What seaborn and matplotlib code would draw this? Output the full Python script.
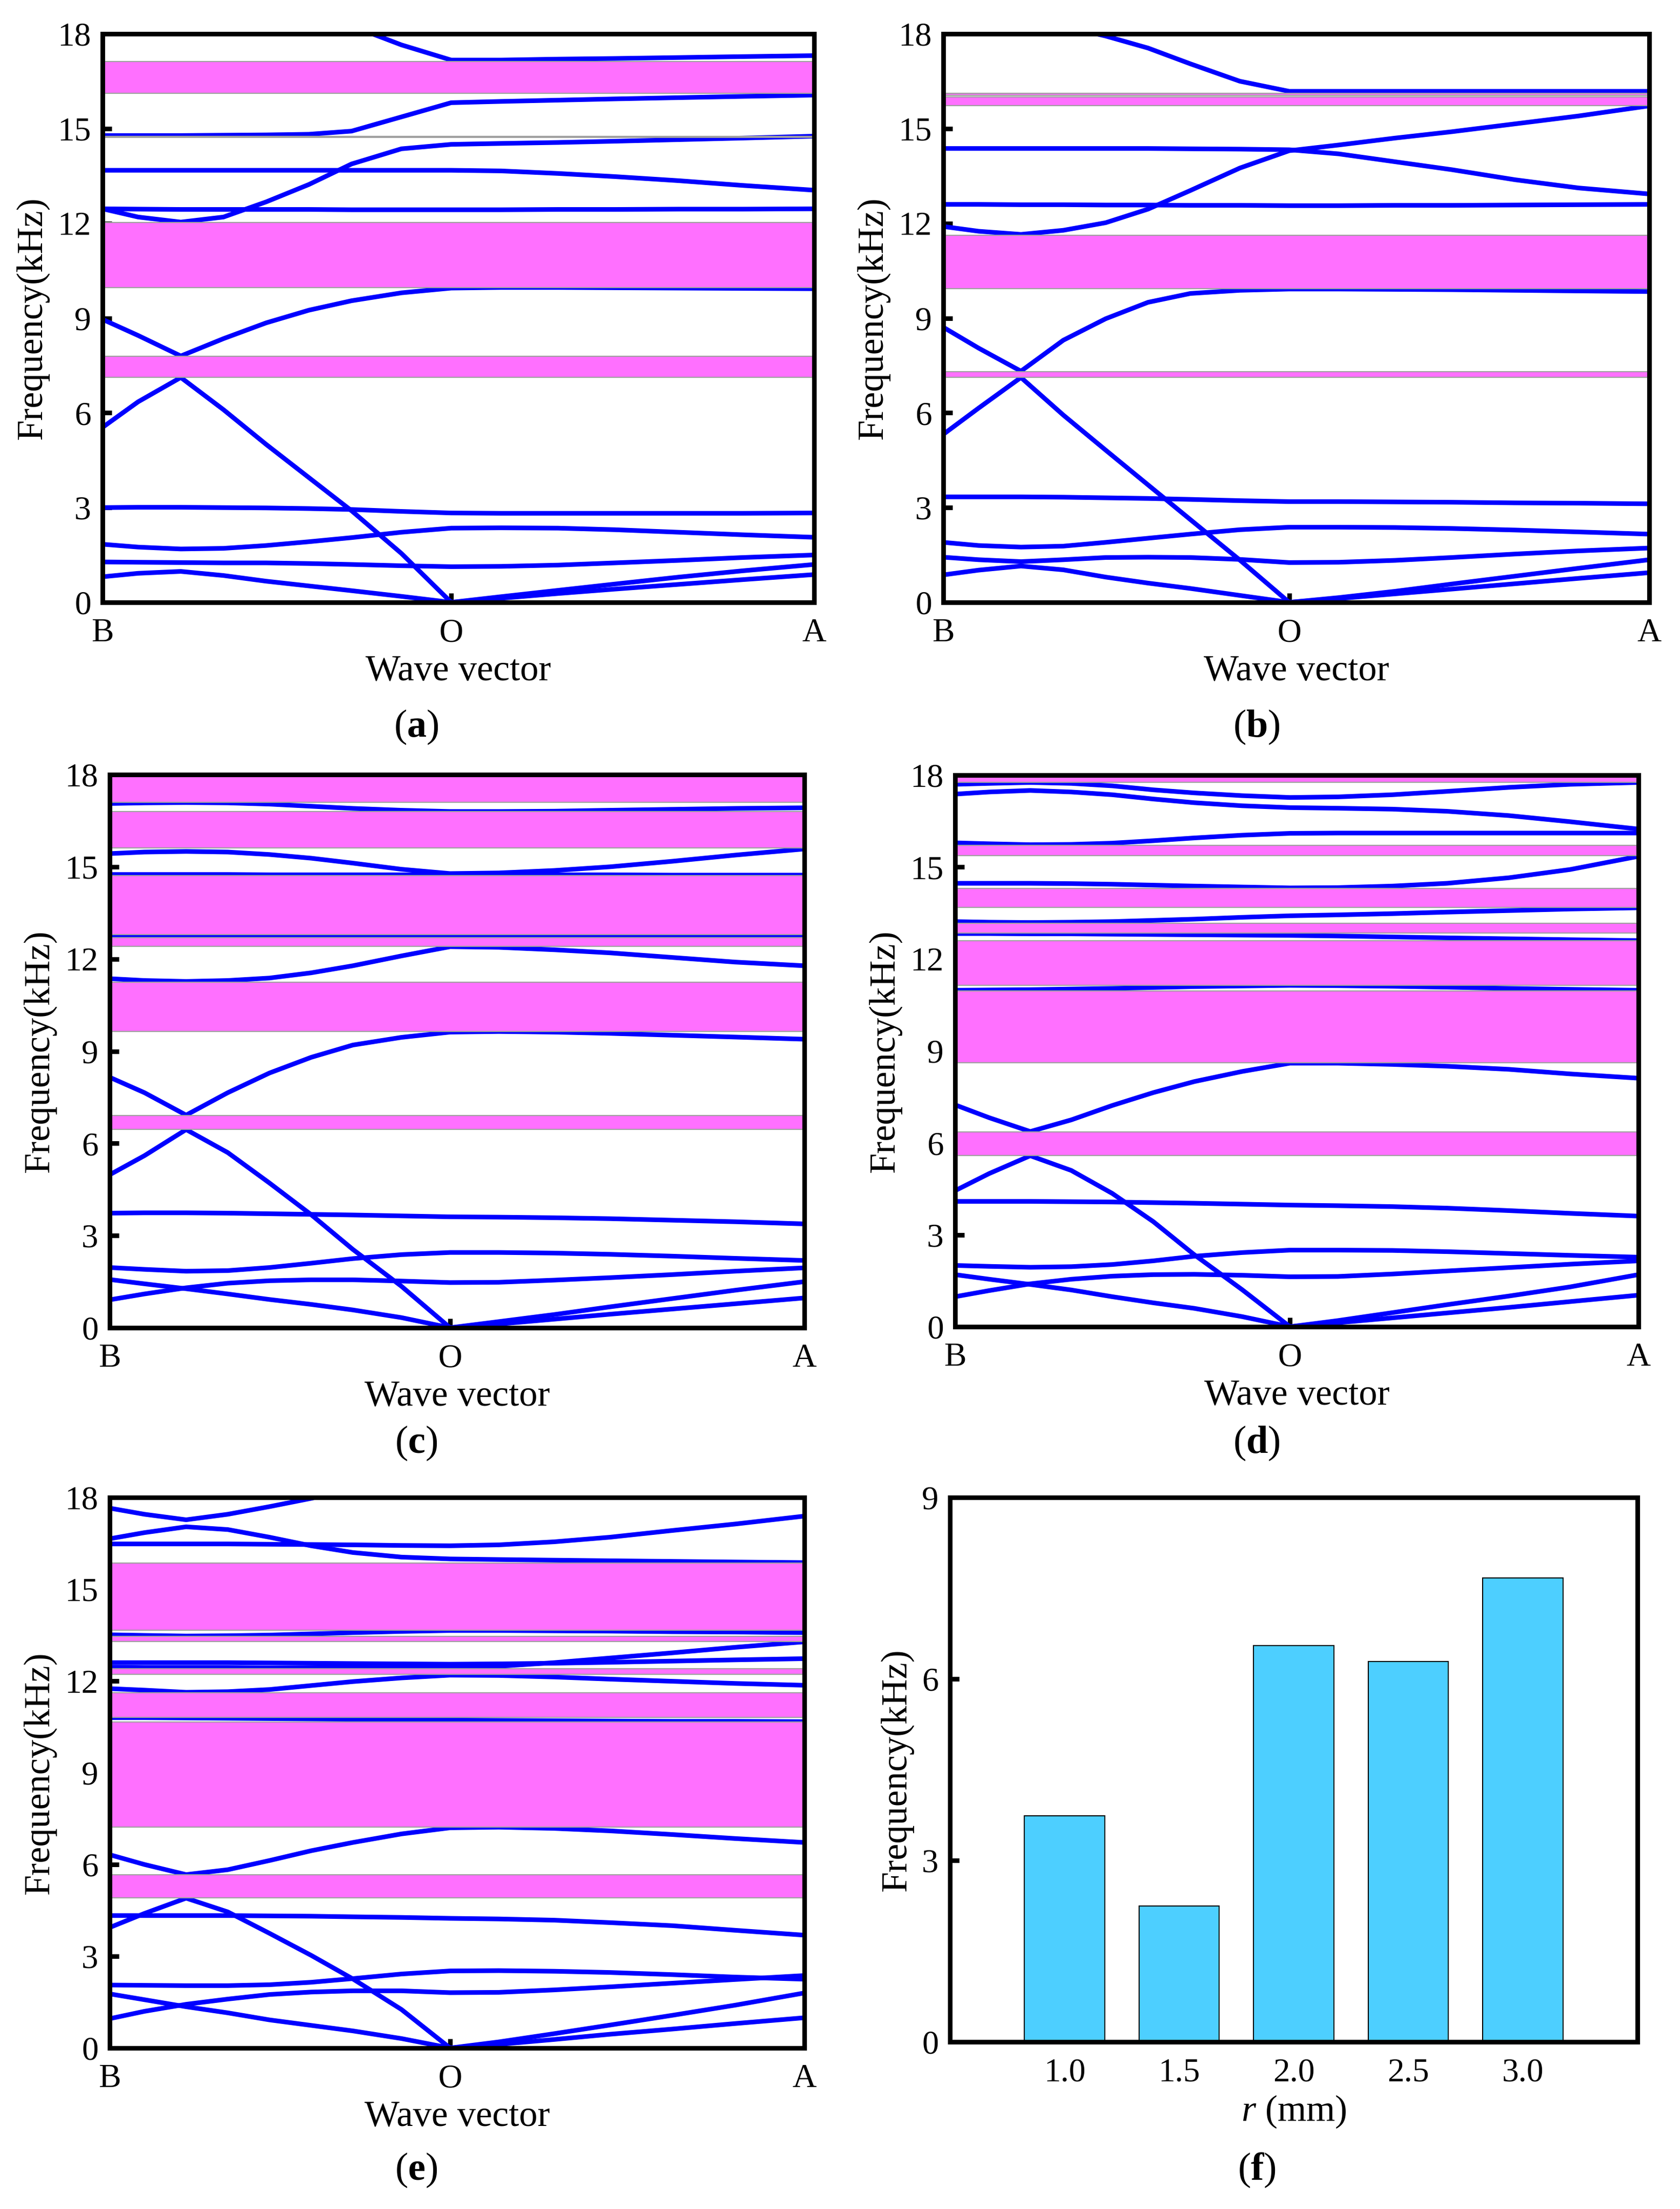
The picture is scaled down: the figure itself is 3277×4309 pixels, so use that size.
import numpy as np
import pandas as pd
import matplotlib
matplotlib.use("Agg")
import matplotlib.pyplot as plt
import seaborn as sns

# posiciones del vector de onda (B = 0, O = 0.49, A = 1)
k_pts = [0, 0.05, 0.11, 0.17, 0.23, 0.29, 0.35, 0.42, 0.49, 0.56, 0.64, 0.72, 0.81, 0.90, 1.0]
k_ticks = [0, 0.49, 1.0]
k_labels = ["B", "O", "A"]

# ---------------- (a) ----------------
bands_a = [
    [0.81, 0.92, 0.98, 0.85, 0.67, 0.52, 0.37, 0.19, 0.00, 0.13, 0.28, 0.42, 0.57, 0.72, 0.88],
    [1.28, 1.27, 1.26, 1.25, 1.25, 1.23, 1.20, 1.16, 1.13, 1.14, 1.18, 1.25, 1.33, 1.42, 1.50],
    [1.84, 1.75, 1.69, 1.71, 1.80, 1.92, 2.05, 2.22, 2.35, 2.36, 2.35, 2.30, 2.22, 2.14, 2.06],
    [3.00, 3.01, 3.01, 3.00, 2.99, 2.97, 2.94, 2.88, 2.83, 2.82, 2.82, 2.82, 2.82, 2.82, 2.83],
    [5.54, 6.35, 7.12, 6.10, 5.00, 3.95, 2.90, 1.55, 0.00, 0.18, 0.38, 0.58, 0.80, 1.00, 1.20],
    [8.96, 8.45, 7.80, 8.35, 8.85, 9.25, 9.55, 9.80, 9.95, 9.97, 9.97, 9.96, 9.95, 9.94, 9.93],
    [12.46, 12.20, 12.04, 12.20, 12.68, 13.23, 13.88, 14.36, 14.50, 14.53, 14.56, 14.60, 14.65, 14.70, 14.76],
    [12.46, 12.45, 12.44, 12.44, 12.44, 12.44, 12.43, 12.43, 12.43, 12.43, 12.44, 12.44, 12.45, 12.45, 12.46],
    [13.68, 13.68, 13.68, 13.68, 13.68, 13.68, 13.68, 13.68, 13.68, 13.66, 13.58, 13.48, 13.35, 13.20, 13.05],
    [14.78, 14.78, 14.78, 14.79, 14.80, 14.82, 14.92, 15.37, 15.82, 15.86, 15.90, 15.94, 15.98, 16.02, 16.06],
    [19.50, 19.40, 19.20, 19.00, 18.80, 18.55, 18.25, 17.65, 17.17, 17.17, 17.20, 17.22, 17.25, 17.28, 17.31],
]
gaps_a = [(16.12, 17.13), (14.72, 14.76), (9.97, 12.03), (7.13, 7.79)]

# ---------------- (b) ----------------
bands_b = [
    [0.87, 1.02, 1.15, 1.03, 0.80, 0.61, 0.44, 0.22, 0.00, 0.12, 0.27, 0.42, 0.59, 0.76, 0.94],
    [1.43, 1.35, 1.29, 1.35, 1.42, 1.43, 1.42, 1.36, 1.26, 1.27, 1.33, 1.42, 1.53, 1.63, 1.72],
    [1.90, 1.80, 1.75, 1.78, 1.90, 2.03, 2.16, 2.30, 2.38, 2.38, 2.37, 2.34, 2.29, 2.23, 2.16],
    [3.34, 3.34, 3.34, 3.33, 3.31, 3.29, 3.26, 3.22, 3.19, 3.19, 3.18, 3.17, 3.15, 3.14, 3.12],
    [5.32, 6.15, 7.12, 5.93, 4.82, 3.72, 2.62, 1.34, 0.00, 0.15, 0.35, 0.58, 0.83, 1.08, 1.35],
    [8.71, 8.05, 7.32, 8.30, 8.98, 9.50, 9.78, 9.88, 9.92, 9.92, 9.91, 9.90, 9.88, 9.86, 9.84],
    [11.90, 11.75, 11.65, 11.78, 12.02, 12.45, 13.04, 13.75, 14.30, 14.48, 14.70, 14.90, 15.15, 15.40, 15.72],
    [12.60, 12.60, 12.59, 12.59, 12.58, 12.58, 12.57, 12.57, 12.56, 12.56, 12.57, 12.57, 12.58, 12.59, 12.60],
    [14.37, 14.37, 14.37, 14.37, 14.37, 14.37, 14.36, 14.35, 14.33, 14.20, 13.95, 13.70, 13.38, 13.12, 12.93],
    [18.80, 18.70, 18.50, 18.25, 17.93, 17.55, 17.05, 16.50, 16.18, 16.18, 16.18, 16.18, 16.18, 16.18, 16.18],
]
gaps_b = [(16.06, 16.12), (15.73, 16.00), (9.93, 11.62), (7.13, 7.31)]

# ---------------- (c) ----------------
bands_c = [
    [1.57, 1.43, 1.27, 1.10, 0.92, 0.76, 0.58, 0.33, 0.00, 0.12, 0.28, 0.44, 0.61, 0.78, 0.97],
    [0.91, 1.10, 1.30, 1.45, 1.53, 1.56, 1.56, 1.52, 1.47, 1.48, 1.55, 1.63, 1.73, 1.84, 1.95],
    [1.96, 1.90, 1.84, 1.86, 1.96, 2.10, 2.25, 2.38, 2.45, 2.45, 2.43, 2.39, 2.33, 2.26, 2.19],
    [3.73, 3.74, 3.74, 3.73, 3.71, 3.69, 3.67, 3.64, 3.61, 3.60, 3.58, 3.55, 3.50, 3.45, 3.38],
    [4.98, 5.60, 6.45, 5.70, 4.71, 3.68, 2.55, 1.35, 0.00, 0.20, 0.43, 0.68, 0.95, 1.22, 1.50],
    [8.15, 7.65, 6.92, 7.65, 8.29, 8.80, 9.20, 9.45, 9.62, 9.64, 9.62, 9.58, 9.52, 9.46, 9.39],
    [11.36, 11.30, 11.27, 11.30, 11.38, 11.55, 11.78, 12.10, 12.40, 12.38, 12.30, 12.20, 12.05, 11.90, 11.78],
    [12.75, 12.75, 12.75, 12.75, 12.75, 12.75, 12.75, 12.76, 12.76, 12.76, 12.76, 12.76, 12.77, 12.77, 12.77],
    [14.75, 14.75, 14.75, 14.75, 14.74, 14.74, 14.74, 14.74, 14.74, 14.74, 14.74, 14.74, 14.73, 14.73, 14.73],
    [15.43, 15.48, 15.50, 15.48, 15.40, 15.28, 15.12, 14.92, 14.78, 14.80, 14.88, 15.00, 15.18, 15.38, 15.58],
    [17.06, 17.08, 17.09, 17.08, 17.04, 16.97, 16.90, 16.84, 16.80, 16.80, 16.81, 16.84, 16.87, 16.90, 16.92],
]
gaps_c = [(17.10, 18.00), (15.62, 16.80), (12.79, 14.71), (12.41, 12.69), (9.64, 11.24), (6.45, 6.90)]

# ---------------- (d) ----------------
bands_d = [
    [1.70, 1.55, 1.38, 1.20, 0.98, 0.78, 0.60, 0.33, 0.00, 0.13, 0.29, 0.45, 0.63, 0.82, 1.03],
    [0.98, 1.18, 1.40, 1.55, 1.65, 1.70, 1.71, 1.68, 1.63, 1.64, 1.72, 1.82, 1.93, 2.04, 2.15],
    [2.00, 1.97, 1.94, 1.96, 2.03, 2.15, 2.30, 2.42, 2.50, 2.50, 2.49, 2.45, 2.39, 2.33, 2.27],
    [4.09, 4.09, 4.09, 4.08, 4.07, 4.05, 4.03, 4.00, 3.97, 3.95, 3.92, 3.87, 3.79, 3.70, 3.61],
    [4.44, 5.00, 5.58, 5.10, 4.35, 3.43, 2.35, 1.21, 0.00, 0.20, 0.46, 0.72, 1.00, 1.30, 1.70],
    [7.24, 6.82, 6.37, 6.75, 7.22, 7.64, 8.00, 8.33, 8.60, 8.60, 8.56, 8.50, 8.40, 8.25, 8.11],
    [10.98, 10.99, 11.00, 11.02, 11.04, 11.07, 11.10, 11.12, 11.14, 11.13, 11.11, 11.08, 11.04, 11.01, 10.98],
    [12.83, 12.83, 12.82, 12.82, 12.81, 12.80, 12.79, 12.78, 12.77, 12.75, 12.72, 12.69, 12.66, 12.63, 12.60],
    [13.22, 13.20, 13.19, 13.20, 13.22, 13.26, 13.30, 13.36, 13.41, 13.44, 13.48, 13.53, 13.58, 13.63, 13.67],
    [14.47, 14.47, 14.47, 14.46, 14.44, 14.41, 14.38, 14.35, 14.32, 14.33, 14.38, 14.47, 14.65, 14.92, 15.35],
    [15.79, 15.76, 15.73, 15.74, 15.78, 15.86, 15.95, 16.04, 16.10, 16.11, 16.11, 16.11, 16.11, 16.11, 16.11],
    [17.38, 17.45, 17.50, 17.45, 17.36, 17.22, 17.10, 17.00, 16.94, 16.92, 16.89, 16.82, 16.68, 16.48, 16.24],
    [17.70, 17.73, 17.76, 17.73, 17.65, 17.52, 17.42, 17.33, 17.27, 17.29, 17.36, 17.47, 17.60, 17.70, 17.76],
]
gaps_d = [(17.77, 18.00), (15.38, 15.71), (13.68, 14.31), (12.84, 13.17),
          (11.14, 12.60), (8.61, 10.95), (5.59, 6.35)]

# ---------------- (e) ----------------
bands_e = [
    [1.77, 1.58, 1.35, 1.15, 0.92, 0.74, 0.56, 0.31, 0.00, 0.12, 0.28, 0.45, 0.62, 0.80, 0.99],
    [0.96, 1.20, 1.43, 1.60, 1.75, 1.83, 1.87, 1.87, 1.81, 1.82, 1.90, 2.00, 2.12, 2.24, 2.37],
    [2.06, 2.05, 2.04, 2.04, 2.07, 2.15, 2.27, 2.42, 2.52, 2.53, 2.51, 2.47, 2.40, 2.32, 2.25],
    [4.33, 4.33, 4.33, 4.33, 4.32, 4.31, 4.29, 4.27, 4.24, 4.22, 4.18, 4.10, 4.00, 3.85, 3.69],
    [3.94, 4.40, 4.90, 4.45, 3.75, 3.03, 2.26, 1.26, 0.00, 0.20, 0.47, 0.75, 1.07, 1.40, 1.80],
    [6.32, 6.00, 5.67, 5.83, 6.13, 6.45, 6.72, 7.00, 7.20, 7.22, 7.18, 7.10, 6.98, 6.85, 6.72],
    [10.80, 10.80, 10.79, 10.78, 10.77, 10.76, 10.75, 10.73, 10.72, 10.71, 10.70, 10.69, 10.68, 10.68, 10.67],
    [11.75, 11.70, 11.63, 11.65, 11.72, 11.85, 11.98, 12.10, 12.19, 12.18, 12.13, 12.06, 11.99, 11.92, 11.86],
    [12.60, 12.60, 12.60, 12.60, 12.59, 12.58, 12.57, 12.56, 12.55, 12.56, 12.58, 12.61, 12.65, 12.69, 12.73],
    [12.45, 12.44, 12.44, 12.44, 12.43, 12.43, 12.43, 12.42, 12.42, 12.48, 12.60, 12.75, 12.92, 13.10, 13.28],
    [13.51, 13.49, 13.47, 13.48, 13.50, 13.54, 13.58, 13.62, 13.65, 13.65, 13.64, 13.63, 13.61, 13.60, 13.58],
    [16.48, 16.48, 16.48, 16.48, 16.47, 16.46, 16.45, 16.43, 16.42, 16.45, 16.55, 16.70, 16.92, 17.13, 17.39],
    [16.65, 16.85, 17.04, 16.95, 16.70, 16.42, 16.20, 16.05, 15.99, 15.97, 15.95, 15.93, 15.91, 15.89, 15.87],
    [17.65, 17.45, 17.27, 17.45, 17.70, 17.97, 18.25, 18.60, 18.90, 19.20, 19.40, 19.60, 19.80, 20.00, 20.20],
]
gaps_e = [(13.66, 15.86), (13.29, 13.46), (12.22, 12.41), (10.81, 11.62), (7.23, 10.66), (4.91, 5.66)]

# ---------------- (f) ----------------
r_mm = ["1.0", "1.5", "2.0", "2.5", "3.0"]
f_khz = [3.74, 2.25, 6.55, 6.29, 7.67]

sns.set_theme(style="ticks", rc={"axes.edgecolor": "black", "text.color": "black",
                                 "xtick.color": "black", "ytick.color": "black",
                                 "axes.labelcolor": "black"})
plt.rcParams["font.family"] = ["Liberation Serif", "DejaVu Serif"]
plt.rcParams["mathtext.fontset"] = "custom"
plt.rcParams["mathtext.rm"] = "Liberation Serif"
plt.rcParams["mathtext.it"] = "Liberation Serif:italic"
plt.rcParams["mathtext.bf"] = "Liberation Serif:bold"

AZUL = "#0000FF"
ROSA = "#FF70FF"
GRIS = "#A0A0A0"
TICK_FS = 47
LABEL_FS = 52
CAP_FS = 55


def estilo_ejes(ax):
    for s in ax.spines.values():
        s.set_linewidth(6.5)
        s.set_color("black")
        s.set_zorder(6)
    ax.tick_params(axis="both", direction="in", length=13, width=6.5,
                   labelsize=TICK_FS, top=False, right=False)
    ax.tick_params(axis="x", pad=22)
    ax.tick_params(axis="y", pad=16)


def dibujar_bandas(ax, bandas, gaps):
    filas = []
    for i, banda in enumerate(bandas):
        for kk, f in zip(k_pts, banda):
            filas.append((i, kk, f))
    df = pd.DataFrame(filas, columns=["band", "k", "freq"])
    sns.lineplot(data=df, x="k", y="freq", units="band", estimator=None, sort=False,
                 color=AZUL, ax=ax, legend=False)
    # grosor de las curvas
    for ln in ax.lines:
        ln.set_linewidth(6.5)
        ln.set_solid_joinstyle("round")
        ln.set_zorder(2)
    for lo, hi in gaps:
        ax.axhspan(lo, hi, facecolor=ROSA, edgecolor="none", zorder=3)
        ax.axhline(lo, color=GRIS, lw=1.6, zorder=3.5)
        ax.axhline(hi, color=GRIS, lw=1.6, zorder=3.5)
    ax.set_xlim(0, 1)
    ax.set_ylim(0, 18)
    ax.set_yticks([0, 3, 6, 9, 12, 15, 18])
    ax.set_xticks(k_ticks)
    ax.set_xticklabels(k_labels)
    ax.set_xlabel("Wave vector", fontsize=LABEL_FS, labelpad=8)
    ax.set_ylabel("Frequency(kHz)", fontsize=LABEL_FS, labelpad=12)
    estilo_ejes(ax)


W, H = 3277, 4309
fig = plt.figure(figsize=(W / 100, H / 100), dpi=100)


def caja(x0, x1, y0, y1):
    return [x0 / W, 1 - y1 / H, (x1 - x0) / W, (y1 - y0) / H]


ax_a = fig.add_axes(caja(200, 1588, 66, 1175))
ax_b = fig.add_axes(caja(1840, 3217, 66, 1175))
ax_c = fig.add_axes(caja(214, 1569, 1511, 2590))
ax_d = fig.add_axes(caja(1863, 3196, 1512, 2588))
ax_e = fig.add_axes(caja(214, 1569, 2921, 3995))
ax_f = fig.add_axes(caja(1853, 3194, 2921, 3983))

dibujar_bandas(ax_a, bands_a, gaps_a)
dibujar_bandas(ax_b, bands_b, gaps_b)
dibujar_bandas(ax_c, bands_c, gaps_c)
dibujar_bandas(ax_d, bands_d, gaps_d)
dibujar_bandas(ax_e, bands_e, gaps_e)

# ---------- grafico de barras (f) ----------
sns.barplot(x=r_mm, y=f_khz, color="#4DCFFF", saturation=1, edgecolor="black",
            linewidth=1.5, width=0.7, ax=ax_f)
ax_f.set_xlim(-1, 5)
ax_f.set_ylim(0, 9)
ax_f.set_yticks([0, 3, 6, 9])
ax_f.set_xlabel(r"$\mathit{r}$ (mm)", fontsize=LABEL_FS, labelpad=8)
ax_f.set_ylabel("Frequency(kHz)", fontsize=LABEL_FS, labelpad=12)
estilo_ejes(ax_f)
ax_f.tick_params(axis="x", length=0)

# etiquetas de los subgraficos
for letra, (cx, cy) in zip("abcdef", [(812, 1418), (2451, 1418), (812, 2815),
                                      (2451, 2815), (812, 4233), (2451, 4233)]):
    fig.text(cx / W, 1 - cy / H, r"($\mathbf{" + letra + "}$)", fontsize=CAP_FS,
             ha="center", va="center")

fig.savefig("out.png", dpi=100)
